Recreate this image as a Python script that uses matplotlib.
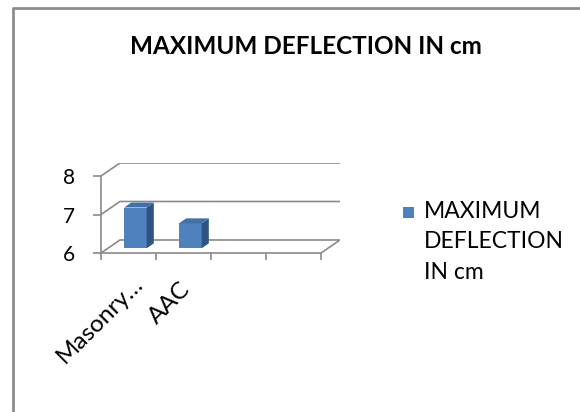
import matplotlib
matplotlib.use("Agg")
import matplotlib.pyplot as plt
from matplotlib.patches import Polygon, Rectangle
from matplotlib.lines import Line2D

# data
categories = ["Masonry\u2026", "AAC", "", ""]
values = [7.06, 6.65, None, None]
series_name = "MAXIMUM\nDEFLECTION\nIN cm"
title = "MAXIMUM DEFLECTION IN cm"
y_ticks = [6, 7, 8]

FONT = ["Lato", "DejaVu Sans"]
GRID = "#8a8a8a"
FRONT = "#4F81BD"
SIDE = "#2E5485"
TOP = "#4470A8"

# fake 3-D: depth shift in data units
DX, DY = 0.344, 0.338
d0, d1 = 0.36, 0.74
bw = 0.41
ymin, ymax = y_ticks[0], y_ticks[-1]
n = len(categories)

fig = plt.figure(figsize=(5.8, 4.12), dpi=100)
ax = fig.add_axes([101 / 580, 159 / 412, 239 / 580, 90 / 412])
ax.set_xlim(0, n + DX)
ax.set_ylim(ymin, ymax + DY)
ax.patch.set_visible(False)

# back wall gridlines + floor
for y in y_ticks[1:]:
    ax.plot([0, DX, n + DX], [y, y + DY, y + DY], color=GRID, lw=1.2,
            solid_joinstyle="miter", zorder=1)
ax.plot([0, DX, n + DX, n], [ymin, ymin + DY, ymin + DY, ymin],
        color=GRID, lw=1.2, zorder=1)

# bars
for i, v in enumerate(values):
    if v is None:
        continue
    x0 = i + 0.5 - bw / 2 + d0 * DX
    x1 = x0 + bw
    b = ymin + d0 * DY
    t = v + d0 * DY
    sx, sy = (d1 - d0) * DX, (d1 - d0) * DY
    ax.bar(x0 + bw / 2, t - b, bottom=b, width=bw, color=FRONT,
           edgecolor="none", zorder=3)
    ax.add_patch(Polygon([(x1, b), (x1 + sx, b + sy), (x1 + sx, t + sy), (x1, t)],
                         closed=True, facecolor=SIDE, edgecolor="none", zorder=3))
    ax.add_patch(Polygon([(x0, t), (x1, t), (x1 + sx, t + sy), (x0 + sx, t + sy)],
                         closed=True, facecolor=TOP, edgecolor="none", zorder=3))

# axes
for s in ["top", "right"]:
    ax.spines[s].set_visible(False)
for s in ["left", "bottom"]:
    ax.spines[s].set_color(GRID)
    ax.spines[s].set_linewidth(1.2)
ax.spines["left"].set_bounds(ymin, ymax)
ax.spines["bottom"].set_bounds(0, n)
ax.set_yticks(y_ticks)
ax.set_yticklabels([str(t) for t in y_ticks], fontsize=15, family=FONT)
ax.tick_params(axis="y", length=6, width=1.2, color=GRID, pad=13)
ax.set_xticks(range(n + 1))
ax.set_xticklabels([])
ax.tick_params(axis="x", which="major", length=5, width=1.2, color=GRID)

# rotated category labels (the ellipsis sits low, so nudge that one up)
offsets = [(8.2, -20), (2.6, -24), (2.6, -24), (2.6, -24)]
for i, (lab, off) in enumerate(zip(categories, offsets)):
    if lab:
        ax.annotate(lab, xy=(i + 0.5, ymin), xytext=off, textcoords="offset points",
                    rotation=45, ha="right", va="center", rotation_mode="anchor",
                    fontsize=17.5, family=FONT, annotation_clip=False)

# title
fig.text(306 / 580, 1 - 47 / 412, title, ha="center", va="center",
         fontsize=17.5, fontweight="bold", family=FONT)

# legend
fig.patches.append(Rectangle((403 / 580, 1 - 218 / 412), 11 / 580, 11 / 412,
                             transform=fig.transFigure, facecolor=FRONT,
                             edgecolor="none"))
fig.text(424 / 580, 1 - 201 / 412, series_name, ha="left", va="top",
         fontsize=16.5, family=FONT, linespacing=1.55)

# chart border
fig.add_artist(Line2D([13 / 580, 13 / 580, 1], [0, 1 - 8 / 412, 1 - 8 / 412],
                      transform=fig.transFigure, color="#8c8c8c", lw=2))

fig.savefig("out.png", dpi=100)
